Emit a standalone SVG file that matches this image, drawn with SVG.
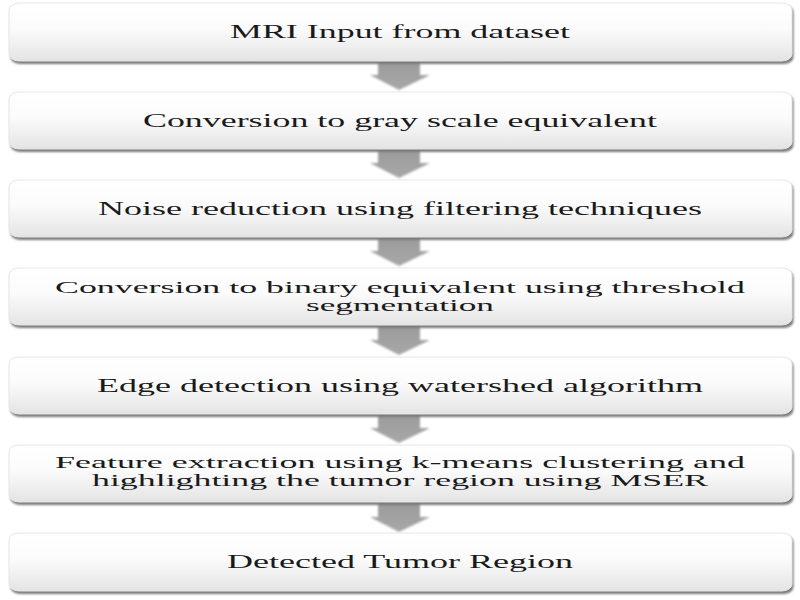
<svg xmlns="http://www.w3.org/2000/svg" width="800" height="600" viewBox="0 0 800 600">
<defs>
<linearGradient id="boxg" x1="0" y1="0" x2="0" y2="1">
<stop offset="0" stop-color="#ffffff"/>
<stop offset="0.45" stop-color="#fbfbfb"/>
<stop offset="1" stop-color="#e4e4e4"/>
</linearGradient>
<linearGradient id="arrg" x1="0" y1="0" x2="0" y2="1">
<stop offset="0" stop-color="#9a9a9a"/>
<stop offset="1" stop-color="#a8a8a8"/>
</linearGradient>
<filter id="sh" x="-5%" y="-20%" width="110%" height="150%">
<feGaussianBlur stdDeviation="1.2"/>
</filter>
<filter id="ash" x="-30%" y="-30%" width="160%" height="160%">
<feGaussianBlur stdDeviation="0.8"/>
</filter>
</defs>
<style>
.shadow{fill:#7a7a7a;filter:url(#sh);}
.box{fill:url(#boxg);stroke:#e6e6e6;stroke-width:1;}
.lbl{font-family:"Liberation Serif","Times New Roman",serif;font-size:18px;fill:#1a1a1a;text-anchor:middle;}
.lbl2{font-size:16.5px;}
.arr{fill:url(#arrg);filter:url(#ash);}
</style>
<rect width="800" height="600" fill="#ffffff"/>
<g id="connectors">
<path class="arr" d="M378,58 H420 V75 H430 L399,90 L370,75 H378 Z"/>
<path class="arr" d="M378,147 H420 V163 H430 L399,178 L370,163 H378 Z"/>
<path class="arr" d="M378,235 H420 V251 H430 L399,266 L370,251 H378 Z"/>
<path class="arr" d="M378,323 H420 V340 H430 L399,355 L370,340 H378 Z"/>
<path class="arr" d="M378,412 H420 V428 H430 L399,443 L370,428 H378 Z"/>
<path class="arr" d="M378,500 H420 V517 H430 L399,532 L370,517 H378 Z"/>
</g>
<g id="n1">
<rect class="shadow" x="10.5" y="5" width="783" height="59" rx="10" ry="7"/>
<rect class="box" x="9" y="3" width="783" height="58" rx="10" ry="7"/>
<text class="lbl" transform="scale(2,1)" x="200" y="38" textLength="170" lengthAdjust="spacingAndGlyphs">MRI Input from dataset</text>
</g>
<g id="n2">
<rect class="shadow" x="10.5" y="94" width="783" height="58" rx="10" ry="7"/>
<rect class="box" x="9" y="92" width="783" height="57" rx="10" ry="7"/>
<text class="lbl" transform="scale(2,1)" x="200" y="127" textLength="257" lengthAdjust="spacingAndGlyphs">Conversion to gray scale equivalent</text>
</g>
<g id="n3">
<rect class="shadow" x="10.5" y="182" width="783" height="58" rx="10" ry="7"/>
<rect class="box" x="9" y="180" width="783" height="57" rx="10" ry="7"/>
<text class="lbl" transform="scale(2,1)" x="200" y="215" textLength="302" lengthAdjust="spacingAndGlyphs">Noise reduction using filtering techniques</text>
</g>
<g id="n4">
<rect class="shadow" x="10.5" y="270" width="783" height="58" rx="10" ry="7"/>
<rect class="box" x="9" y="268" width="783" height="57" rx="10" ry="7"/>
<text class="lbl lbl2" transform="scale(2,1)" x="200" y="293" textLength="345" lengthAdjust="spacingAndGlyphs">Conversion to binary equivalent using threshold</text>
<text class="lbl lbl2" transform="scale(2,1)" x="200" y="311" textLength="94" lengthAdjust="spacingAndGlyphs">segmentation</text>
</g>
<g id="n5">
<rect class="shadow" x="10.5" y="359" width="783" height="58" rx="10" ry="7"/>
<rect class="box" x="9" y="357" width="783" height="57" rx="10" ry="7"/>
<text class="lbl" transform="scale(2,1)" x="200" y="392" textLength="303" lengthAdjust="spacingAndGlyphs">Edge detection using watershed algorithm</text>
</g>
<g id="n6">
<rect class="shadow" x="10.5" y="447" width="783" height="58" rx="10" ry="7"/>
<rect class="box" x="9" y="445" width="783" height="57" rx="10" ry="7"/>
<text class="lbl lbl2" transform="scale(2,1)" x="200" y="468" textLength="345" lengthAdjust="spacingAndGlyphs">Feature extraction using k-means clustering and</text>
<text class="lbl lbl2" transform="scale(2,1)" x="200" y="486" textLength="308" lengthAdjust="spacingAndGlyphs">highlighting the tumor region using MSER</text>
</g>
<g id="n7">
<rect class="shadow" x="10.5" y="535" width="783" height="59" rx="10" ry="7"/>
<rect class="box" x="9" y="533" width="783" height="58" rx="10" ry="7"/>
<text class="lbl" transform="scale(2,1)" x="200" y="568" textLength="173" lengthAdjust="spacingAndGlyphs">Detected Tumor Region</text>
</g>
</svg>
